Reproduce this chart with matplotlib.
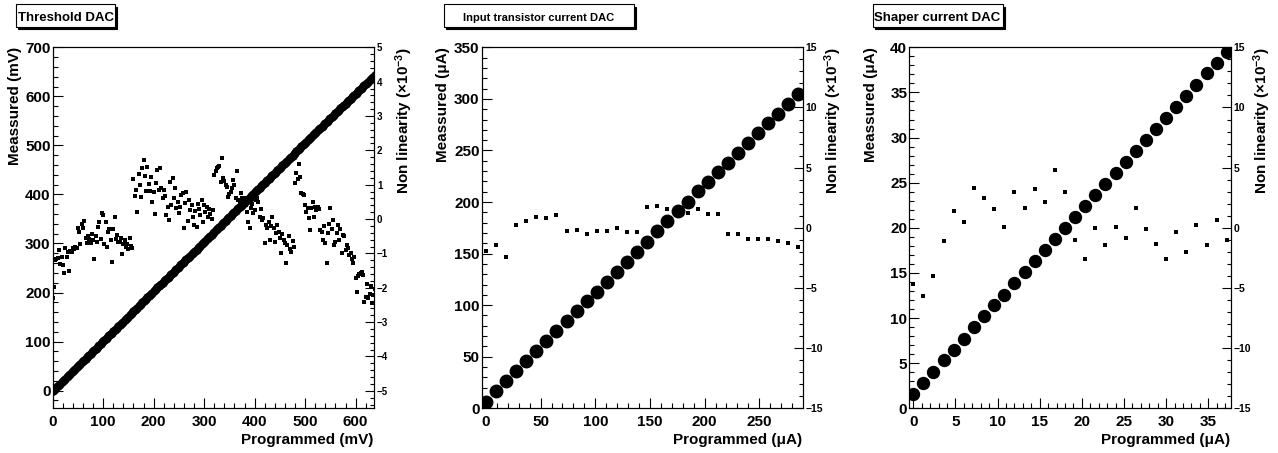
import numpy as np
import matplotlib
matplotlib.use('Agg')
import matplotlib.pyplot as plt
from matplotlib.ticker import MultipleLocator
from matplotlib.patches import Rectangle

plt.rcParams['font.family'] = ['Liberation Sans', 'DejaVu Sans']
plt.rcParams['font.weight'] = 'bold'
plt.rcParams['mathtext.fontset'] = 'custom'
plt.rcParams['mathtext.rm'] = 'Liberation Sans:bold'
plt.rcParams['mathtext.bf'] = 'Liberation Sans:bold'
plt.rcParams['mathtext.it'] = 'Liberation Sans:bold'

W, H = 1278, 453

# ---------------- threshold DAC (256 codes, 2.5 mV step) ----------------
thr_step = 2.5
thr_gain = 1.01      # mV / mV
thr_offset = 0.0
thr_fullscale = 640.0
thr_nl = [
    # codes 0-63
    -2.29, -1.97, -1.20, -1.15, -1.12, -0.90, -1.32, -1.10, -1.34, -1.58, -0.85, -1.10, -0.95, -1.52, -0.93, -0.97,
    -0.85, -0.86, -0.80, -0.84, -0.27, -0.39, -0.74, -0.13, -0.27, -0.06, -0.56, -0.70, -0.49, -0.59, -0.71, -0.45,
    -0.62, -1.15, -0.49, -0.66, -0.22, -0.10, -0.58, 0.17, 0.12, -0.74, -0.09, -0.82, -0.38, -0.30, -0.62, -1.24,
    -0.28, 0.07, -0.58, -0.47, -0.66, -0.68, -0.55, -1.03, -0.74, -0.60, -0.80, -0.72, -0.86, -0.55, -0.78, -0.84,
    # codes 64-127
    1.16, 0.68, 0.85, 0.21, 1.30, 0.99, 0.65, 1.48, 1.72, 1.26, 0.83, 1.52, 1.01, 0.83, 1.21, 0.49,
    0.80, 0.14, 1.04, 1.43, 0.86, 1.50, 0.90, 0.60, 0.86, 0.68, 0.12, 0.36, -0.03, 1.07, 0.41, 1.19,
    0.60, 0.91, 0.31, 0.51, 0.17, 0.36, 0.70, 0.75, -0.27, 0.46, 0.78, -0.06, 0.55, 0.26, 0.41, 0.07,
    -0.17, 0.23, -0.22, 0.45, 0.30, 0.12, 0.55, -0.10, 0.40, 0.20, 0.35, 0.05, 0.30, 0.15, 0.00, 0.25,
    # codes 128-191
    1.28, 1.40, 1.48, 1.52, 1.55, 1.09, 1.79, 1.19, 1.12, 1.00, 0.94, 0.65, 0.72, 0.80, 0.89, 1.14,
    1.00, 0.60, 1.40, 0.55, 0.51, 0.75, 0.62, 0.36, 0.60, 0.40, 0.21, -0.08, -0.27, 0.31, 0.45, 0.17,
    0.25, 0.55, 0.62, 0.51, 0.07, 0.30, -0.03, 0.02, -0.71, -0.17, -0.27, -0.10, -0.61, -0.20, 0.07, -0.25,
    -0.66, -0.40, -0.17, -0.37, -0.55, -1.00, -0.45, -0.61, -0.70, -1.29, -0.76, -0.50, -0.86, -0.95, -0.65, -0.80,
    # codes 192-255
    1.04, 1.33, 1.18, 1.59, 1.23, 0.75, 0.72, 0.70, 0.41, 0.21, 0.31, 0.02, -0.32, 0.33, 0.50, 0.07,
    0.36, 0.25, 0.36, 0.28, -0.32, -0.37, -0.61, -0.20, -0.71, -1.29, -0.42, -0.13, 0.31, -0.30, -0.03, -0.76,
    -0.66, -0.40, -0.17, -0.61, -0.30, -1.00, -0.47, -0.50, -0.90, -0.76, -0.85, -1.05, -1.00, -1.15, -1.29, -1.10,
    -1.73, -2.12, -1.65, -1.60, -1.58, -1.54, -1.62, -2.41, -2.26, -1.88, -2.30, -2.17, -1.95, -2.44, -2.20, -2.05,
]
thr_prog = np.arange(len(thr_nl)) * thr_step
# measured = linear fit + non linearity * full scale
thr_meas = thr_offset + thr_gain * thr_prog + np.array(thr_nl) * 1e-3 * thr_fullscale

# ---------------- input transistor current DAC ----------------
inp_prog = [0, 9.2, 18.4, 27.7, 36.9, 46.1, 55.3, 64.5, 73.8, 83.0, 92.2, 101.4, 110.6, 119.9, 129.1, 138.3,
            147.5, 156.7, 166.0, 175.2, 184.4, 193.6, 202.8, 212.1, 221.3, 230.5, 239.7, 248.9, 258.2, 267.4,
            276.6, 285.8]
inp_meas = [6.5, 16.9, 26.3, 36.0, 45.8, 55.6, 65.2, 75.0, 84.4, 94.0, 103.6, 113.1, 122.8, 132.4, 142.1, 151.6,
            161.2, 171.6, 181.3, 190.9, 200.4, 210.2, 219.8, 229.3, 238.0, 247.6, 257.0, 266.6, 276.2, 285.8,
            295.3, 304.8]
inp_nl = [-1.94, -1.44, -2.41, 0.25, 0.58, 0.91, 0.78, 1.05, -0.27, -0.22, -0.52, -0.24, -0.30, -0.05, -0.36, -0.36,
          1.69, 1.80, 1.58, 1.30, 1.19, 1.55, 1.14, 1.14, -0.55, -0.49, -0.97, -0.97, -0.97, -1.08, -1.30, -1.60]

# ---------------- shaper current DAC ----------------
sha_prog = [0, 1.2, 2.4, 3.6, 4.8, 6.0, 7.2, 8.4, 9.6, 10.8, 12.0, 13.2, 14.4, 15.6, 16.8, 18.0,
            19.2, 20.4, 21.6, 22.8, 24.0, 25.2, 26.4, 27.6, 28.8, 30.0, 31.2, 32.4, 33.6, 34.8, 36.0, 37.2]
sha_meas = [1.6, 2.8, 4.0, 5.3, 6.5, 7.7, 9.0, 10.2, 11.4, 12.6, 13.9, 15.1, 16.3, 17.5, 18.8, 20.0,
            21.2, 22.4, 23.6, 24.8, 26.1, 27.3, 28.5, 29.7, 30.9, 32.2, 33.4, 34.6, 35.8, 37.1, 38.3, 39.5]
sha_nl = [-4.71, -5.68, -4.01, -1.08, 1.41, 0.50, 3.27, 2.44, 1.55, 0.06, 2.97, 1.61, 3.24, 2.16, 4.80, 3.00,
          -1.05, -2.57, -0.05, -1.41, 0.09, -0.83, 1.67, -0.14, -1.38, -2.57, -0.38, -2.02, 0.20, -1.46, 0.61, -1.05]

titles = ['Threshold DAC', 'Input transistor current DAC', 'Shaper current DAC']
ylabels = ['Meassured (mV)', 'Meassured (μA)', 'Meassured (μA)']
xlabels = ['Programmed (mV)', 'Programmed (μA)', 'Programmed (μA)']
nl_label = r'Non linearity ($\times$10$^{-3}$)'

fig = plt.figure(figsize=(W / 100, H / 100), dpi=100)


def fx(px):
    return px / W


def fy(py):
    return 1 - py / H


def panel(left, right, xlim, ylim, nlim, xmaj, xmin, ymaj, ymin, nmaj, nmin, rlabsize):
    ax = fig.add_axes([fx(left), fy(408.3), fx(right - left), fy(47.3) - fy(408.3)])
    ax.set_xlim(*xlim)
    ax.set_ylim(*ylim)
    ax.xaxis.set_major_locator(MultipleLocator(xmaj))
    ax.xaxis.set_minor_locator(MultipleLocator(xmin))
    ax.yaxis.set_major_locator(MultipleLocator(ymaj))
    ax.yaxis.set_minor_locator(MultipleLocator(ymin))
    ax.tick_params(which='both', direction='in', top=False, right=False, width=0.8)
    ax.tick_params(which='major', length=7, labelsize=11)
    ax.tick_params(which='minor', length=3.5)
    ax.tick_params(axis='x', pad=5)
    ax.tick_params(axis='y', pad=1.5)
    ax2 = ax.twinx()
    ax2.set_ylim(*nlim)
    ax2.yaxis.set_major_locator(MultipleLocator(nmaj))
    ax2.yaxis.set_minor_locator(MultipleLocator(nmin))
    ax2.tick_params(which='both', direction='in', width=0.8, pad=2)
    ax2.tick_params(which='major', length=6.5, labelsize=rlabsize)
    ax2.tick_params(which='minor', length=3.2)
    return ax, ax2


# panel 1
ax, ax2 = panel(52.7, 374.3, (0, 637), (-36, 700), (-5.51, 5), 100, 20, 100, 20, 1, 0.2, 7)
ax.plot(thr_prog, thr_meas, 'o', color='black', ms=5.6, mec='black', mew=0.5)
ax2.plot(thr_prog, thr_nl, 's', color='black', ms=2.3, mew=0)

# panel 2
ax, ax2 = panel(481.7, 802.7, (-3.9, 289.7), (0, 350), (-15, 15), 50, 10, 50, 10, 5, 1, 7.5)
ax.plot(inp_prog, inp_meas, 'o', color='black', ms=9, mec='black')
ax2.plot(inp_prog, inp_nl, 's', color='black', ms=3.3, mew=0)

# panel 3
ax, ax2 = panel(909.3, 1231, (-0.47, 37.7), (0, 40), (-15, 15), 5, 1, 5, 1, 5, 1, 7.5)
ax.plot(sha_prog, sha_meas, 'o', color='black', ms=8.6, mec='black')
ax2.plot(sha_prog, sha_nl, 's', color='black', ms=3.1, mew=0)

# axis titles (ROOT style, aligned to axis end)
ylab_x = [15, 443.5, 871]
nl_x = [404, 833, 1262]
xlab_r = [373, 801.7, 1230]
for i in range(3):
    fig.text(fx(ylab_x[i]), fy(47.3), ylabels[i], rotation=90, ha='center', va='top',
             fontsize=11, fontweight='bold')
    fig.text(fx(nl_x[i]), fy(47.3), nl_label, rotation=90, ha='center', va='top',
             fontsize=11, fontweight='bold')
    fig.text(fx(xlab_r[i]), fy(440), xlabels[i], ha='right', va='center',
             fontsize=11, fontweight='bold')

# title boxes with shadow
boxes = [(16, 115), (444, 634), (872.7, 1002.7)]
tsize = [9.5, 8, 9.5]
for (bx0, bx1), t, s in zip(boxes, titles, tsize):
    shadow = Rectangle((fx(bx0 + 2.3), fy(26.7 + 2.3)), fx(bx1 - bx0), fy(4.3) - fy(26.7),
                       transform=fig.transFigure, facecolor='black', edgecolor='black', lw=0.8)
    box = Rectangle((fx(bx0), fy(26.7)), fx(bx1 - bx0), fy(4.3) - fy(26.7),
                    transform=fig.transFigure, facecolor='white', edgecolor='black', lw=0.8)
    fig.patches.extend([shadow, box])
    if t == 'Input transistor current DAC':
        fig.text(fx((bx0 + bx1) / 2), fy(20.7), t, ha='center', va='baseline', fontsize=s, fontweight='bold')
    else:
        fig.text(fx(bx0 + 1.5), fy(20.7), t, ha='left', va='baseline', fontsize=s, fontweight='bold')

fig.savefig('out.png', dpi=100)
